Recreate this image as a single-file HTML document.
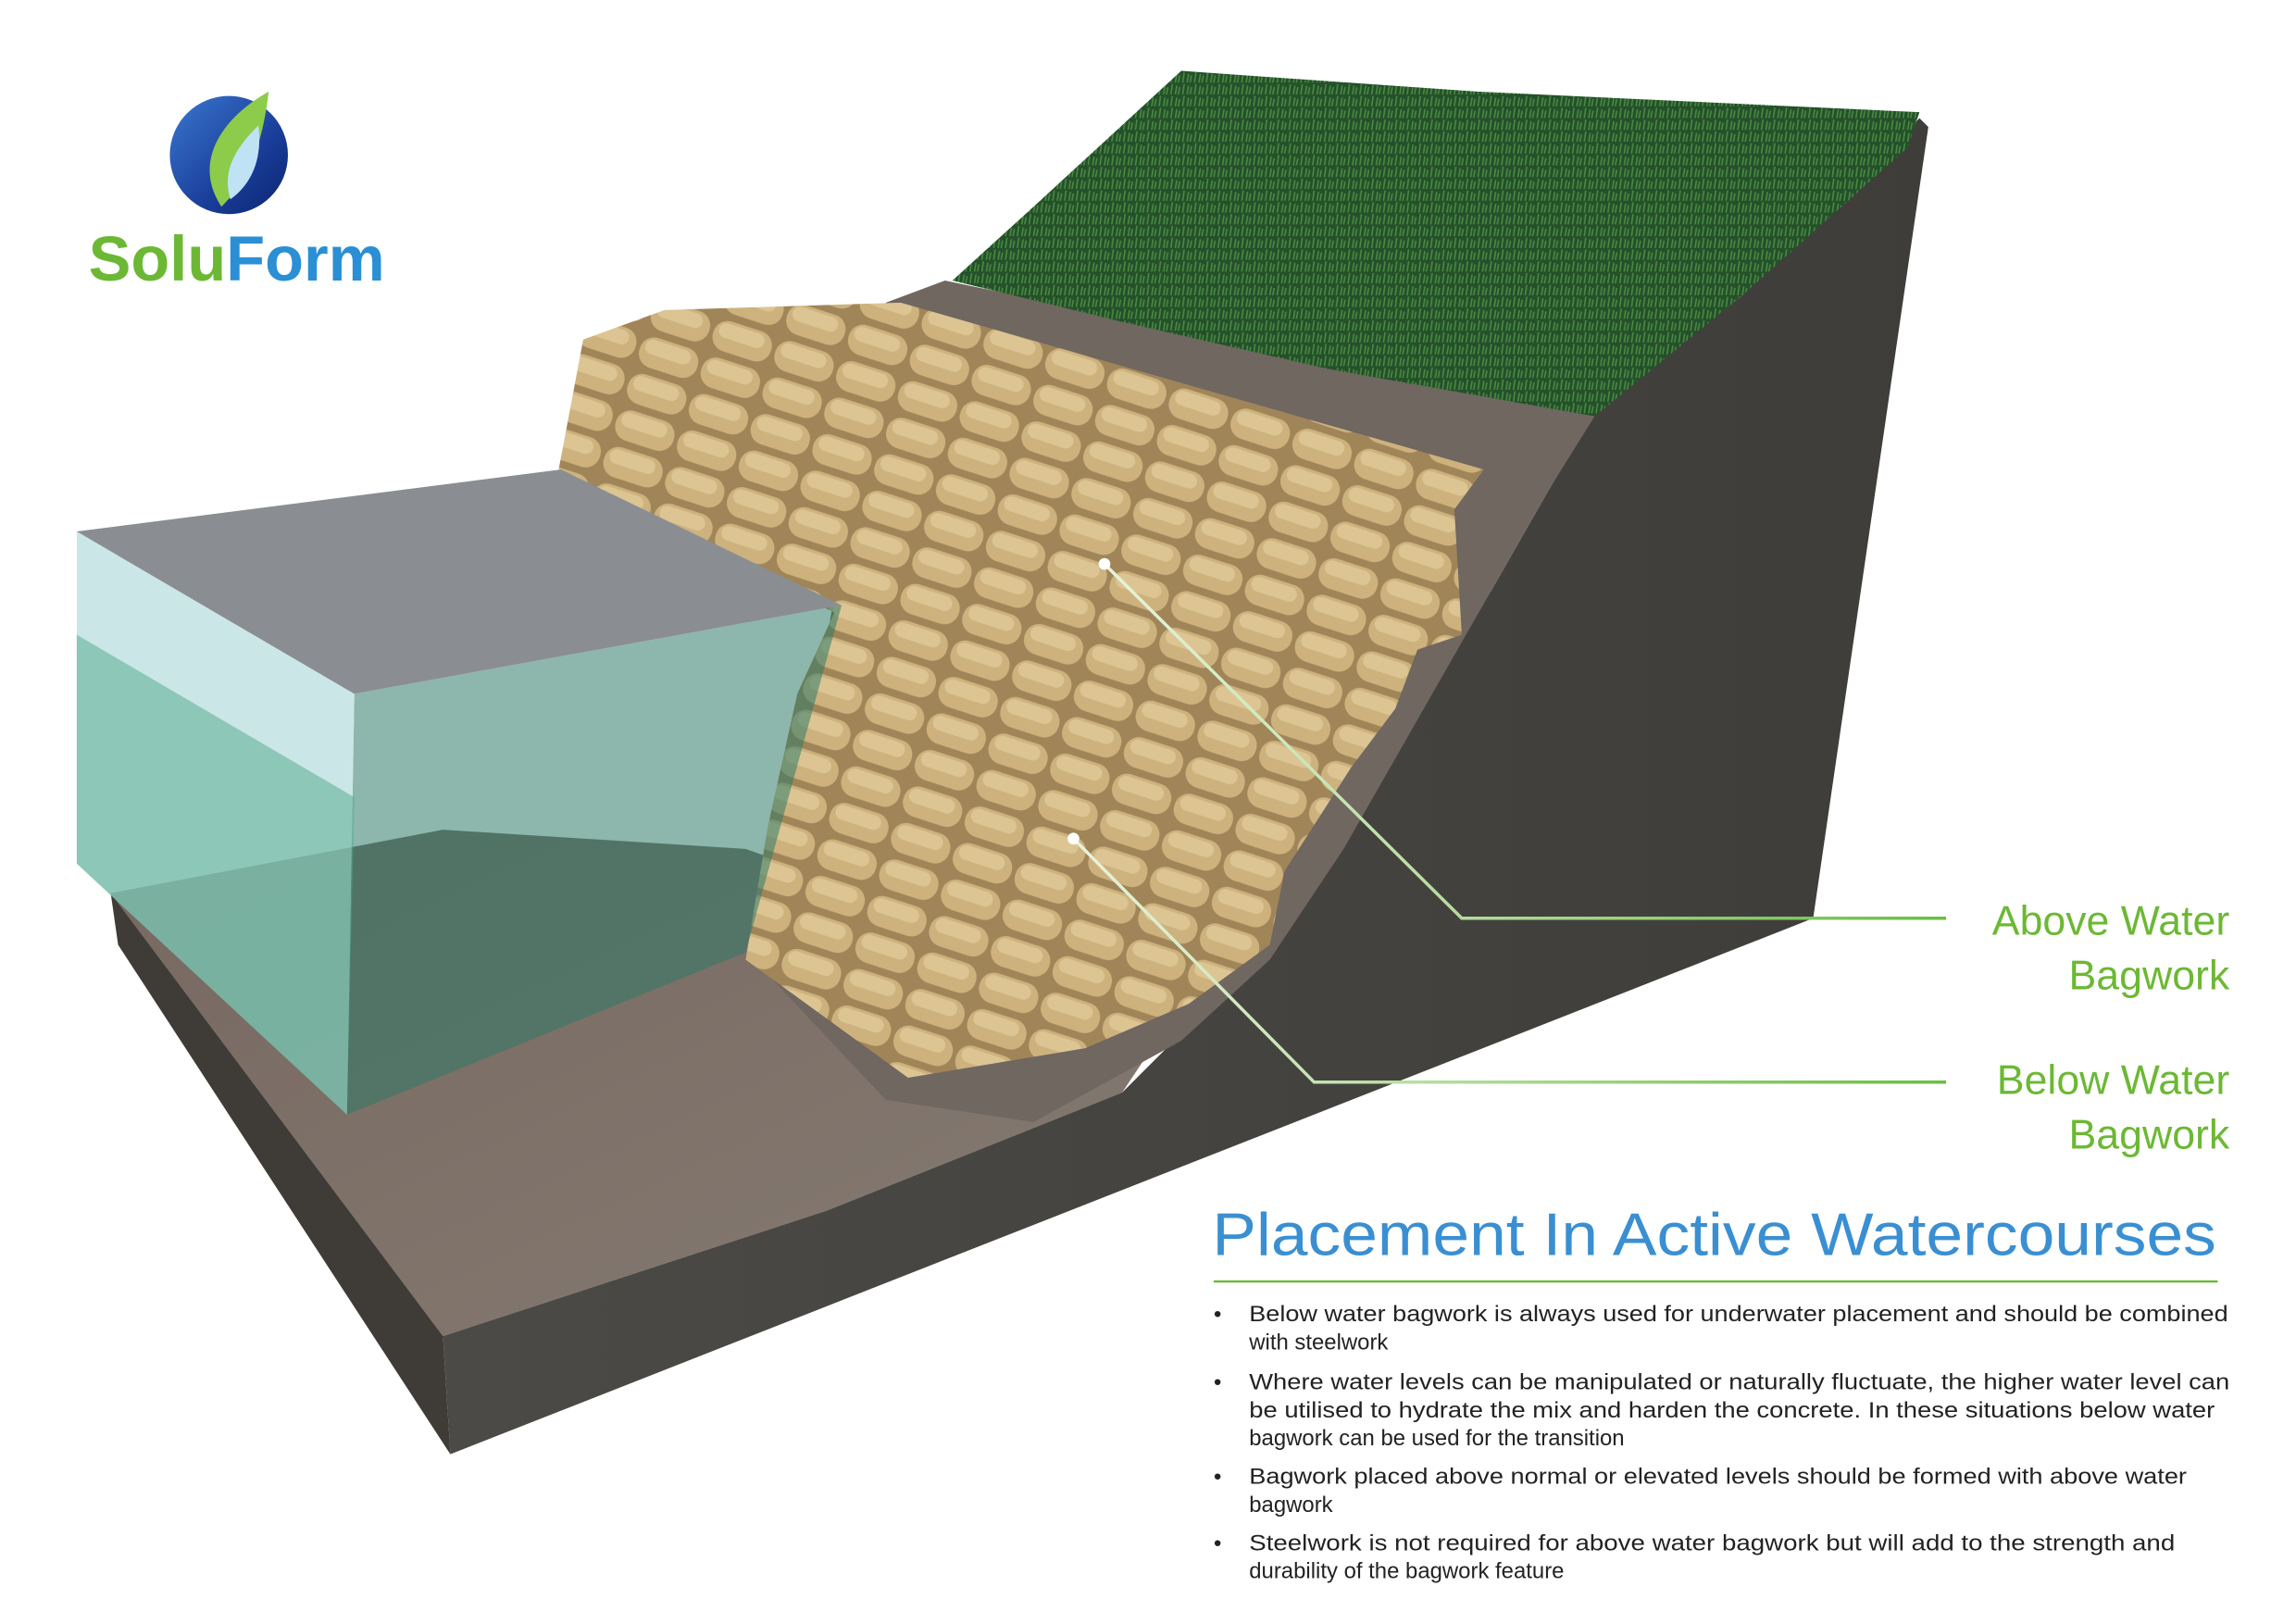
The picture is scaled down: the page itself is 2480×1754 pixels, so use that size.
<!DOCTYPE html>
<html><head><meta charset="utf-8"><style>
html,body{margin:0;padding:0;background:#fff;}
svg{display:block;}
text{font-family:"Liberation Sans",sans-serif;}
</style></head><body>
<svg width="2480" height="1754" viewBox="0 0 1555 1100" preserveAspectRatio="none" xmlns="http://www.w3.org/2000/svg">
<defs>
<linearGradient id="logo" x1="0" y1="0" x2="1" y2="1"><stop offset="0" stop-color="#3a78d0"/><stop offset="0.6" stop-color="#1a3e9a"/><stop offset="1" stop-color="#0b2470"/></linearGradient>
<pattern id="bags" width="44" height="26" patternUnits="userSpaceOnUse" patternTransform="rotate(18)">
<rect width="44" height="26" fill="#a08558"/>
<rect x="1" y="2" width="41" height="21" rx="10" fill="#cdb27e"/>
<rect x="4" y="4" width="32" height="10" rx="5" fill="#dcc593"/>
</pattern>
<pattern id="grass" width="8" height="8" patternUnits="userSpaceOnUse">
<rect width="8" height="8" fill="#24502a"/>
<path d="M1 8 L2 1 M4 8 L5 2 M6 8 L7 3" stroke="#4a8a42" stroke-width="1"/>
</pattern>
<linearGradient id="slab" x1="0" y1="0" x2="1" y2="1"><stop offset="0" stop-color="#776860"/><stop offset="1" stop-color="#857b72"/></linearGradient>
<linearGradient id="dark" x1="0" y1="0" x2="1" y2="0"><stop offset="0" stop-color="#4c4a46"/><stop offset="1" stop-color="#3f3d3a"/></linearGradient>
<linearGradient id="lineA" x1="0" x2="1"><stop offset="0" stop-color="#e8f3dc"/><stop offset="1" stop-color="#6bbd45"/></linearGradient>
</defs>

<circle cx="155" cy="105" r="40" fill="url(#logo)"/>
<path d="M150 140 C130 110 150 80 182 62 C178 95 170 120 150 140Z" fill="#8ccc4a"/>
<path d="M156 135 C150 115 160 100 175 85 C178 108 170 125 156 135Z" fill="#bfe3f5"/>
<text x="60" y="190" font-size="43" font-weight="bold" fill="#6cb834">Solu<tspan fill="#2a8fd4">Form</tspan></text>

<polygon points="75,605 300,562 505,575 800,680 760,740 560,820 300,905" fill="url(#slab)"/>
<polygon points="75,605 300,905 305,985 80,640" fill="#3f3b37"/>
<polygon points="1300,80 1306,86 1228,622 305,985 300,905 560,820 760,740 850,650 900,580 960,480 1010,400 1050,330 1080,280 1180,200" fill="url(#dark)"/>
<polygon points="600,205 640,190 1080,282 1050,330 1010,400 970,470 910,575 860,650 800,705 700,760 600,745 520,660" fill="#6f6760"/>
<polygon points="645,190 700,140 800,48 1000,62 1300,76 1292,100 1180,200 1080,282 900,250 760,218" fill="url(#grass)"/>

<polygon points="378,320 395,230 450,210 610,205 1005,318 985,345 990,430 960,440 945,480 915,520 870,590 860,640 805,680 735,710 615,730 505,650 520,560 540,470 565,415" fill="url(#bags)"/>

<polygon points="240,470 235,755 505,645 570,410" fill="#2f7a68" opacity="0.55"/>
<polygon points="52,360 52,585 235,755 240,470" fill="#b5dcdc" opacity="0.7"/>
<polygon points="52,430 52,585 235,755 240,540" fill="#4fa88a" opacity="0.5"/>
<polygon points="52,360 380,318 570,410 240,470" fill="#8a8e92"/>

<polyline points="748,382 990,622 1318,622" fill="none" stroke="url(#lineA)" stroke-width="2.2"/>
<polyline points="727,568 890,733 1318,733" fill="none" stroke="url(#lineA)" stroke-width="2.2"/>
<circle cx="748" cy="382" r="4" fill="#fff"/>
<circle cx="727" cy="568" r="4" fill="#fff"/>

<g fill="#6cb834" font-size="28" text-anchor="end">
<text x="1510" y="633">Above Water</text>
<text x="1510" y="670">Bagwork</text>
<text x="1510" y="741">Below Water</text>
<text x="1510" y="778">Bagwork</text>
</g>

<text x="821" y="850" font-size="41" fill="#3a8fd2" textLength="680" lengthAdjust="spacingAndGlyphs">Placement In Active Watercourses</text>
<line x1="822" y1="868" x2="1502" y2="868" stroke="#6cb834" stroke-width="1.5"/>

<g font-size="15" fill="#222">
<text x="822" y="895">•</text>
<text x="846" y="895" textLength="663" lengthAdjust="spacingAndGlyphs">Below water bagwork is always used for underwater placement and should be combined</text>
<text x="846" y="914">with steelwork</text>
<text x="822" y="941">•</text>
<text x="846" y="941" textLength="664" lengthAdjust="spacingAndGlyphs">Where water levels can be manipulated or naturally fluctuate, the higher water level can</text>
<text x="846" y="960" textLength="654" lengthAdjust="spacingAndGlyphs">be utilised to hydrate the mix and harden the concrete. In these situations below water</text>
<text x="846" y="979">bagwork can be used for the transition</text>
<text x="822" y="1005">•</text>
<text x="846" y="1005" textLength="635" lengthAdjust="spacingAndGlyphs">Bagwork placed above normal or elevated levels should be formed with above water</text>
<text x="846" y="1024">bagwork</text>
<text x="822" y="1050">•</text>
<text x="846" y="1050" textLength="627" lengthAdjust="spacingAndGlyphs">Steelwork is not required for above water bagwork but will add to the strength and</text>
<text x="846" y="1069">durability of the bagwork feature</text>
</g>
</svg>
</body></html>
